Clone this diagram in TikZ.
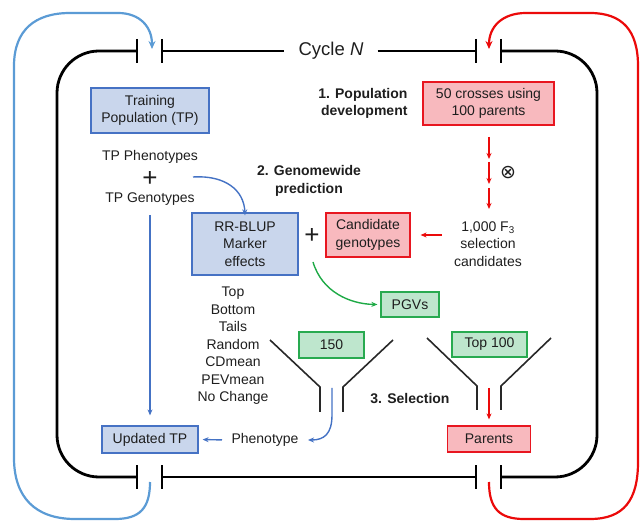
\documentclass[tikz,border=0pt]{standalone}
\usepackage{fontspec}
\setmainfont{Liberation Sans}
\newfontfamily\djv{DejaVu Sans}
\usetikzlibrary{arrows.meta,calc}
\definecolor{bfill}{RGB}{201,214,236}
\definecolor{bdraw}{RGB}{70,114,196}
\definecolor{rfill}{RGB}{248,185,190}
\definecolor{rdraw}{RGB}{232,22,32}
\definecolor{gfill}{RGB}{190,230,205}
\definecolor{gdraw}{RGB}{40,170,80}
\definecolor{outblue}{RGB}{91,155,213}
\definecolor{inblue}{RGB}{68,114,196}
\definecolor{redarr}{RGB}{235,10,10}
\definecolor{grarr}{RGB}{30,170,70}
\definecolor{txt}{RGB}{30,30,30}
\definecolor{fun}{RGB}{40,40,40}
\begin{document}
\begin{tikzpicture}[x=1pt,y=-1pt,
  font=\fontsize{14}{17.5}\selectfont, text=txt,
  box/.style={draw, line width=1.2pt, inner sep=0pt, align=center},
  bbox/.style={box, draw=bdraw, fill=bfill},
  rbox/.style={box, draw=rdraw, fill=rfill},
  gbox/.style={box, draw=gdraw, fill=gfill},
  plain/.style={align=center},
  bold/.style={font=\fontsize{14}{17.5}\selectfont\bfseries},
  cyclebar/.style={line width=2.8pt, black},
  tick/.style={line width=2.8pt, black},
  outloop/.style={line width=2.2pt},
  barrow/.style={draw=inblue, line width=1.4pt, -{Stealth[length=6pt,width=5pt]}},
  rarrow/.style={draw=redarr, line width=1.4pt, -{Stealth[length=6pt,width=5pt]}},
  garrow/.style={draw=grarr, line width=1.4pt, -{Stealth[length=6pt,width=5pt]}},
  funnel/.style={line width=1.6pt, draw=fun},
]
\useasboundingbox (0,0) rectangle (643,521);

% ---------- cycle frame ----------
\node[inner xsep=14pt, font=\fontsize{18.5}{20}\selectfont] (cyc) at (331,51) {Cycle \textit{N}};
\coordinate (tl1) at (137,51); \coordinate (tl2) at (162,51);
\coordinate (tr1) at (476,51); \coordinate (tr2) at (501,51);
\coordinate (bl1) at (137,477); \coordinate (bl2) at (162,477);
\coordinate (br1) at (476,477); \coordinate (br2) at (501,477);
\draw[cyclebar] (tl2) -- (cyc.west);
\draw[cyclebar] (cyc.east) -- (tr1);
\draw[cyclebar] (bl2) -- (br1);
\draw[cyclebar, rounded corners=42pt] (tl1) -- (57,51) -- (57,477) -- (bl1);
\draw[cyclebar, rounded corners=42pt] (tr2) -- (597,51) -- (597,477) -- (br2);
\foreach \c in {tl1,tl2,tr1,tr2,bl1,bl2,br1,br2}
  \draw[tick] ($(\c)+(0,-12)$) -- ($(\c)+(0,12)$);

% ---------- outer loops ----------
\coordinate (bstart) at (150,482);
\coordinate (bend) at (152,49);
\draw[outloop, draw=outblue, -{Stealth[length=8pt,width=7pt]}]
  (bstart) .. controls (150,508) and (140,519) .. (115,519) -- (75,519)
  .. controls (35,519) and (14,497) .. (14,458) -- (14,66)
  .. controls (14,30) and (35,13) .. (70,13) -- (118,13)
  .. controls (140,13) and (152,27) .. (bend);
\coordinate (rstart) at (489,482);
\coordinate (rend) at (489,49);
\draw[outloop, draw=redarr, -{Stealth[length=8pt,width=7pt]}]
  (rstart) .. controls (489,508) and (499,519) .. (524,519) -- (590,519)
  .. controls (624,519) and (638,500) .. (638,462) -- (638,66)
  .. controls (638,30) and (622,13) .. (590,13) -- (526,13)
  .. controls (502,13) and (489,27) .. (rend);

% ---------- nodes ----------
\node[bbox, minimum width=118pt, minimum height=45pt] (tp) at (150,110.5) {Training\\Population (TP)};
\node[plain, bold, anchor=east, align=right] (popdev) at (411,103.5) {1. Population\\development};
\node[rbox, minimum width=131pt, minimum height=43pt] (cross) at (488.5,103.5) {50 crosses using\\100 parents};

\node[plain] (tpph) at (150,157) {TP Phenotypes};
\node[font=\fontsize{26}{26}\selectfont, inner sep=0pt] (plus1) at (150,179) {+};
\node[plain] (tpgen) at (150,199) {TP Genotypes};

\node[plain, bold] (gp) at (309,181) {2. Genomewide\\prediction};
\node[bbox, minimum width=106pt, minimum height=62pt] (rr) at (245,244) {RR-BLUP\\Marker\\effects};
\node[font=\fontsize{26}{26}\selectfont, inner sep=0pt] (plus2) at (312,236) {+};
\node[rbox, minimum width=84pt, minimum height=44pt] (cand) at (368,235) {Candidate\\genotypes};
\node[plain] (f3) at (488,244) {1,000 F\textsubscript{3}\\selection\\candidates};
\node[font=\fontsize{19}{19}\selectfont\djv, inner sep=0pt] (selfing) at (508,173) {⊗};

\node[gbox, minimum width=58pt, minimum height=25pt] (pgv) at (410,304.5) {PGVs};
\node[plain] (list) at (233,346) {Top\\Bottom\\Tails\\Random\\CDmean\\PEVmean\\No Change};
\node[gbox, minimum width=65pt, minimum height=26pt] (n150) at (331.5,345) {150};
\node[gbox, minimum width=75pt, minimum height=25pt] (top100) at (489.5,344.5) {Top 100};
\node[plain, bold] (sel) at (410,399) {3. Selection};

\node[bbox, minimum width=96pt, minimum height=27pt] (upd) at (150,439.5) {Updated TP};
\node[plain] (pheno) at (265,440) {Phenotype};
\node[rbox, minimum width=83pt, minimum height=26pt] (parents) at (489,439) {Parents};

% ---------- funnels ----------
\draw[funnel] (270,340) -- (320,387) -- (320,412);
\draw[funnel] (393,340) -- (343,387) -- (343,412);
\draw[funnel] (427,338) -- (477,386) -- (477,410);
\draw[funnel] (551,338) -- (501,386) -- (501,410);

% ---------- connectors ----------
\coordinate (c1) at (193,177);
\draw[barrow] (c1) .. controls (225,175) and (244,190) .. ([yshift=-3]rr.north);
\draw[barrow, shorten <=6pt, shorten >=10pt] (tpgen.south) -- (upd.north);
\draw[barrow, shorten <=6pt, shorten >=4pt] (pheno.west) -- (upd.east);
\coordinate (fb) at (332,388);
\draw[barrow] (fb) -- (332,415) .. controls (332,434) and (324,440) .. ([xshift=6]pheno.east);

\coordinate (g1) at (313,262);
\draw[garrow] (g1) .. controls (322,292) and (350,304) .. ([xshift=-3]pgv.west);

\coordinate (r0) at (489,137); \coordinate (r1) at (489,159);
\coordinate (r2) at (489,162); \coordinate (r3) at (489,184);
\coordinate (r4) at (489,188); \coordinate (r5) at (489,209);
\draw[rarrow] (r0) -- (r1);
\draw[rarrow] (r2) -- (r3);
\draw[rarrow] (r4) -- (r5);
\draw[rarrow, shorten <=9pt, shorten >=10pt] (f3.west |- cand.east) -- (cand.east);
\coordinate (fr) at (489,388);
\draw[rarrow, shorten >=6pt] (fr) -- (parents.north);
\end{tikzpicture}
\end{document}
